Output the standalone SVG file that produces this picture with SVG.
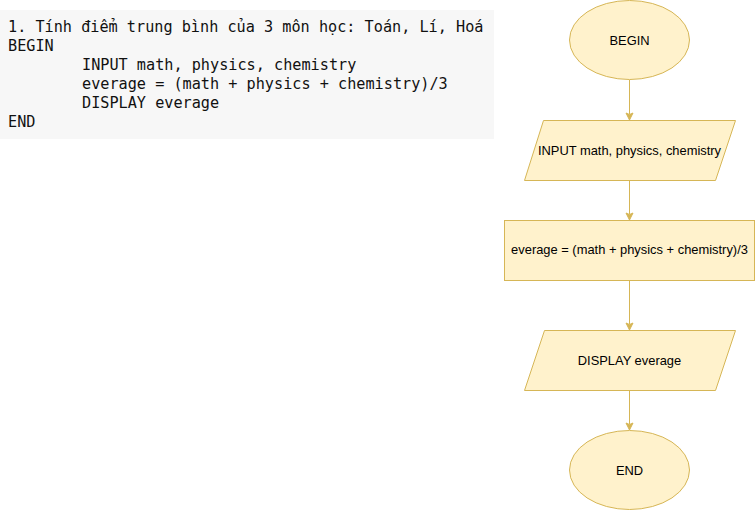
<svg xmlns="http://www.w3.org/2000/svg" width="756" height="511" viewBox="0 0 756 511">
<style>
.code{font-family:"DejaVu Sans Mono","Liberation Mono",monospace;font-size:15.2px;fill:#111111}
.shape{fill:#fff2cc;stroke:#d6b656;stroke-width:1}
.lbl{font-family:"Liberation Sans",Arial,sans-serif;font-size:12.9px;fill:#000000;text-anchor:middle;dominant-baseline:central}
.edge{stroke:#d6b656;stroke-width:1;fill:none}
.head{fill:#d6b656;stroke:#d6b656;stroke-width:1}
</style>
<rect width="756" height="511" fill="#ffffff"/>
<g id="code-block">
<rect x="0" y="10" width="494" height="129" fill="#f7f7f7"/>
<text class="code" x="8" y="32">1. Tính điểm trung bình của 3 môn học: Toán, Lí, Hoá</text>
<text class="code" x="8" y="51">BEGIN</text>
<text class="code" x="82" y="70">INPUT math, physics, chemistry</text>
<text class="code" x="82" y="89">everage = (math + physics + chemistry)/3</text>
<text class="code" x="82" y="108">DISPLAY everage</text>
<text class="code" x="8" y="127">END</text>
</g>
<g id="connectors">
<path class="edge" d="M629.5,80 V114"/>
<path class="head" d="M629.5,120 L626,113 L629.5,114.5 L633,113 Z"/>
<path class="edge" d="M629.5,180 V214"/>
<path class="head" d="M629.5,220 L626,213 L629.5,214.5 L633,213 Z"/>
<path class="edge" d="M629.5,280 V324"/>
<path class="head" d="M629.5,330 L626,323 L629.5,324.5 L633,323 Z"/>
<path class="edge" d="M629.5,390 V424"/>
<path class="head" d="M629.5,430 L626,423 L629.5,424.5 L633,423 Z"/>
</g>
<g id="node-begin">
<ellipse class="shape" cx="629.5" cy="40" rx="60" ry="39.5"/>
<text class="lbl" x="629.5" y="40">BEGIN</text>
</g>
<g id="node-input">
<polygon class="shape" points="543.5,120.5 735.5,120.5 715.5,180.5 524.5,180.5"/>
<text class="lbl" x="629.5" y="150">INPUT math, physics, chemistry</text>
</g>
<g id="node-process">
<rect class="shape" x="504.5" y="220.5" width="250" height="60"/>
<text class="lbl" x="629.5" y="249">everage = (math + physics + chemistry)/3</text>
</g>
<g id="node-display">
<polygon class="shape" points="544.5,330.5 735.5,330.5 715.5,390.5 524.5,390.5"/>
<text class="lbl" x="629.5" y="360">DISPLAY everage</text>
</g>
<g id="node-end">
<ellipse class="shape" cx="629.5" cy="470" rx="60" ry="39.5"/>
<text class="lbl" x="629.5" y="470">END</text>
</g>
</svg>
